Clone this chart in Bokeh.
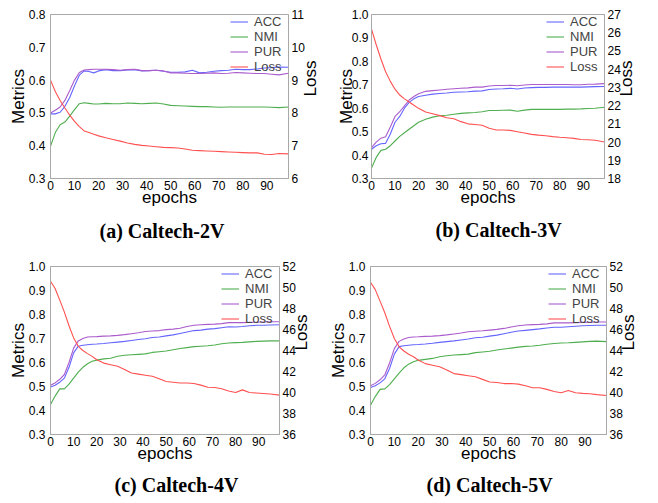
import math
from bokeh.plotting import figure
from bokeh.models import Range1d, LinearAxis, FixedTicker, PrintfTickFormatter, Legend, LegendItem
from bokeh.layouts import column, row
from bokeh.embed import file_html
from bokeh.resources import INLINE

EPOCHS = [0, 2, 4, 6, 8, 10, 12, 14, 16, 18, 20, 23, 26, 29, 32, 35, 38, 41, 44, 47,
          50, 53, 56, 59, 62, 65, 68, 71, 74, 77, 80, 83, 86, 89, 92, 95, 99]
X_TICKS = [0, 10, 20, 30, 40, 50, 60, 70, 80, 90]

# (a) Caltech-2V
ACC_A = [.497, .497, .502, .520, .547, .583, .615, .628, .626, .622, .628,
         .632, .629, .629, .631, .632, .628, .629, .630, .627, .624, .624, .625, .630, .622,
         .624, .627, .629, .630, .633, .632, .632, .634, .637, .638, .640, .639]
NMI_A = [.398, .440, .464, .472, .490, .510, .528, .531, .529, .527, .527,
         .529, .528, .528, .530, .529, .528, .529, .530, .527, .523, .522, .521, .520, .519,
         .519, .518, .517, .518, .518, .518, .518, .518, .518, .517, .516, .518]
PUR_A = [.500, .508, .518, .538, .568, .600, .623, .631, .632, .633, .633,
         .633, .632, .630, .632, .633, .629, .629, .630, .628, .622, .622, .621, .620, .620,
         .621, .622, .620, .621, .623, .622, .621, .620, .620, .618, .616, .621]
LOSS_A = [9.00, 8.65, 8.38, 8.15, 7.93, 7.74, 7.58, 7.45, 7.40, 7.35, 7.30,
          7.24, 7.19, 7.14, 7.08, 7.04, 7.01, 6.99, 6.97, 6.95, 6.94, 6.93, 6.90, 6.86, 6.85,
          6.84, 6.83, 6.82, 6.81, 6.80, 6.79, 6.78, 6.78, 6.74, 6.73, 6.76, 6.75]
M_TICKS_A = [0.3, 0.4, 0.5, 0.6, 0.7, 0.8]
L_TICKS_A = [6, 7, 8, 9, 10, 11]

# (b) Caltech-3V
ACC_B = [.425, .440, .448, .450, .490, .540, .565, .600, .625, .640, .650,
         .655, .660, .663, .665, .668, .669, .670, .673, .674, .680, .682, .683, .685, .682,
         .686, .688, .689, .689, .690, .690, .690, .690, .690, .691, .692, .693]
NMI_B = [.345, .390, .420, .425, .440, .460, .480, .495, .510, .525, .540,
         .553, .562, .568, .570, .574, .578, .580, .582, .585, .590, .590, .591, .592, .587,
         .592, .595, .595, .595, .595, .595, .596, .596, .597, .599, .600, .604]
PUR_B = [.432, .455, .472, .478, .520, .565, .585, .610, .635, .650, .662,
         .672, .675, .678, .681, .683, .685, .687, .690, .690, .695, .697, .697, .698, .696,
         .699, .701, .701, .701, .701, .701, .701, .700, .700, .702, .703, .705]
LOSS_B = [26.2, 25.34, 24.56, 23.86, 23.33, 22.9, 22.58, 22.37, 22.2, 22.02, 21.85,
          21.65, 21.55, 21.45, 21.33, 21.28, 21.12, 21.0, 20.96, 20.92, 20.76, 20.66, 20.66, 20.64, 20.57,
          20.5, 20.42, 20.38, 20.35, 20.3, 20.26, 20.24, 20.2, 20.14, 20.13, 20.1, 20.0]
M_TICKS_B = [0.3, 0.4, 0.5, 0.6, 0.7, 0.8, 0.9, 1.0]
L_TICKS_B = [18, 19, 20, 21, 22, 23, 24, 25, 26, 27]

# (c) Caltech-4V
ACC_C = [.498, .505, .518, .535, .580, .640, .668, .672, .674, .676, .677,
         .679, .682, .685, .688, .692, .696, .699, .704, .706, .711, .715, .721, .727, .733,
         .735, .739, .741, .745, .749, .748, .750, .753, .755, .755, .756, .757]
NMI_C = [.425, .460, .490, .490, .510, .535, .560, .580, .595, .605, .610,
         .615, .618, .626, .630, .632, .634, .636, .642, .645, .648, .653, .658, .662, .666,
         .668, .670, .673, .678, .681, .683, .684, .686, .688, .689, .690, .690]
PUR_C = [.505, .515, .530, .550, .600, .660, .690, .700, .706, .707, .708,
         .710, .711, .713, .716, .720, .724, .729, .731, .733, .737, .739, .743, .750, .755,
         .757, .759, .760, .762, .766, .766, .766, .767, .768, .769, .770, .770]
LOSS_C = [50.6, 49.9, 48.8, 47.65, 46.36, 45.2, 44.4, 44.0, 43.7, 43.44, 43.12,
          42.8, 42.65, 42.5, 42.2, 41.85, 41.75, 41.65, 41.55, 41.3, 41.05, 40.98, 40.9, 40.9, 40.85,
          40.7, 40.5, 40.48, 40.35, 40.15, 40.0, 40.25, 40.0, 39.95, 39.9, 39.85, 39.75]
M_TICKS_C = [0.3, 0.4, 0.5, 0.6, 0.7, 0.8, 0.9, 1.0]
L_TICKS_C = [36, 38, 40, 42, 44, 46, 48, 50, 52]

# (d) Caltech-5V
ACC_D = [.496, .503, .515, .532, .575, .635, .666, .670, .672, .674, .675,
         .677, .680, .684, .687, .690, .694, .698, .703, .705, .710, .714, .720, .726, .731,
         .734, .737, .740, .744, .747, .747, .749, .751, .753, .754, .755, .755]
NMI_D = [.422, .458, .488, .490, .508, .532, .556, .578, .593, .603, .609,
         .613, .617, .624, .628, .631, .633, .635, .641, .644, .647, .652, .656, .660, .664,
         .667, .669, .672, .676, .679, .681, .682, .684, .686, .688, .689, .687]
PUR_D = [.503, .513, .528, .548, .598, .658, .688, .698, .704, .706, .707,
         .709, .710, .712, .715, .719, .723, .728, .730, .732, .735, .738, .742, .748, .753,
         .756, .758, .759, .761, .765, .765, .765, .766, .767, .768, .769, .769]
LOSS_D = [50.5, 49.8, 48.7, 47.6, 46.3, 45.15, 44.35, 43.95, 43.65, 43.4, 43.1,
          42.75, 42.6, 42.45, 42.15, 41.8, 41.7, 41.6, 41.5, 41.25, 41.0, 40.95, 40.85, 40.85, 40.8,
          40.65, 40.45, 40.45, 40.3, 40.1, 39.98, 40.2, 39.98, 39.92, 39.88, 39.8, 39.72]
M_TICKS_D = M_TICKS_C
L_TICKS_D = L_TICKS_C

CAPTIONS = ["(a) Caltech-2V", "(b) Caltech-3V", "(c) Caltech-4V", "(d) Caltech-5V"]
SERIES_NAMES = ["ACC", "NMI", "PUR", "Loss"]
COLORS = ["#6464ff", "#4fae4f", "#aa5ccc", "#ff5050"]
FRAME_GRAY = "#a8a8a8"
SANS = "Liberation Sans"


def style_axis(ax, ticks, fmt, label, label_standoff, tick_standoff):
    ax.ticker = FixedTicker(ticks=ticks)
    if fmt:
        ax.formatter = PrintfTickFormatter(format=fmt)
    ax.axis_label = label
    ax.axis_label_text_font = SANS
    ax.axis_label_text_font_size = "17px"
    ax.axis_label_text_font_style = "normal"
    ax.axis_label_text_color = "black"
    ax.axis_label_standoff = label_standoff
    ax.major_label_text_font = SANS
    ax.major_label_text_font_size = "12px"
    ax.major_label_text_color = "black"
    ax.major_label_standoff = tick_standoff
    ax.axis_line_color = FRAME_GRAY
    ax.major_tick_out = 0
    ax.major_tick_in = 0
    ax.minor_tick_out = 0
    ax.minor_tick_in = 0


def make_panel(caption, acc, nmi, pur, loss, mt, lt, fw, fh, bl, br, bt, bb,
               tstand, toff, left_std):
    p = figure(width=bl + fw + br, height=bt + fh + bb,
               min_border_left=bl, min_border_right=br, min_border_top=bt, min_border_bottom=bb,
               x_range=Range1d(0, 99), y_range=Range1d(mt[0], mt[-1]),
               output_backend="svg", toolbar_location=None,
               title=caption, title_location="below")
    p.extra_y_ranges = {"loss": Range1d(lt[0], lt[-1])}
    p.xgrid.visible = False
    p.ygrid.visible = False
    p.outline_line_color = FRAME_GRAY
    p.outline_line_width = 1
    p.background_fill_color = "white"
    p.border_fill_color = "white"

    style_axis(p.xaxis[0], X_TICKS, None, "epochs", -5, 2)
    style_axis(p.yaxis[0], mt, "%.1f", "Metrics", left_std[0], left_std[1])
    ra = LinearAxis(y_range_name="loss")
    style_axis(ra, lt, "%d", "Loss", 3, 3)
    ra.axis_label_orientation = math.pi / 2
    p.add_layout(ra, "right")

    renderers = []
    for vals, col, rng in ((acc, COLORS[0], "default"), (nmi, COLORS[1], "default"),
                           (pur, COLORS[2], "default"), (loss, COLORS[3], "loss")):
        r = p.line(EPOCHS, vals, line_color=col, line_width=1.1, y_range_name=rng)
        renderers.append(r)

    items = [LegendItem(label=n, renderers=[r]) for n, r in zip(SERIES_NAMES, renderers)]
    leg = Legend(items=items, location="top_right")
    leg.margin = 0
    leg.padding = 1
    leg.spacing = 0
    leg.glyph_height = 13
    leg.glyph_width = 18
    leg.label_height = 13
    leg.label_width = 34
    leg.label_standoff = 6
    leg.label_text_font = SANS
    leg.label_text_font_size = "13px"
    leg.label_text_line_height = 1.0
    leg.border_line_color = None
    leg.background_fill_alpha = 0
    p.add_layout(leg)

    p.title.align = "left"
    p.title.offset = toff
    p.title.text_font = "Liberation Serif"
    p.title.text_font_style = "bold"
    p.title.text_font_size = "20px"
    p.title.text_color = "black"
    p.title.standoff = tstand
    return p


pa = make_panel(CAPTIONS[0], ACC_A, NMI_A, PUR_A, LOSS_A, M_TICKS_A, L_TICKS_A,
                242, 170, 50, 40, 12, 68, 17, 49, (-2, 5))
pb = make_panel(CAPTIONS[1], ACC_B, NMI_B, PUR_B, LOSS_B, M_TICKS_B, L_TICKS_B,
                237, 171, 39, 40, 14, 65, 14, 64, (-7, 3))
pc = make_panel(CAPTIONS[2], ACC_C, NMI_C, PUR_C, LOSS_C, M_TICKS_C, L_TICKS_C,
                233, 168, 50, 40, 16, 68, 13, 64, (-2, 5))
pd = make_panel(CAPTIONS[3], ACC_D, NMI_D, PUR_D, LOSS_D, M_TICKS_D, L_TICKS_D,
                240, 170, 47, 40, 14, 68, 13, 56, (-2, 5))

layout = column(row(pa, pb, spacing=0), row(pc, pd, spacing=0), spacing=0)

with open("out.html", "w") as f:
    f.write(file_html(layout, INLINE))
